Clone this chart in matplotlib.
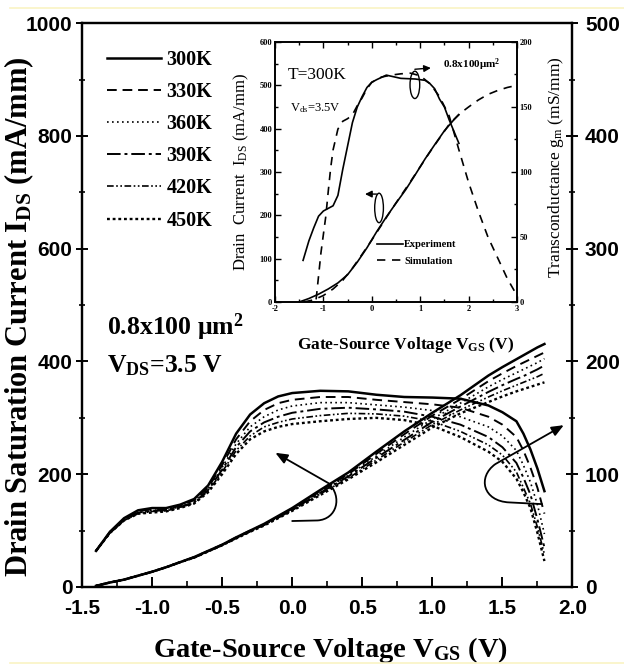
import matplotlib
matplotlib.use("Agg")
import matplotlib.pyplot as plt
from matplotlib.lines import Line2D
from matplotlib.patches import FancyArrowPatch, Ellipse
from matplotlib.path import Path
from matplotlib.ticker import MultipleLocator

plt.rcParams['axes.unicode_minus'] = False
plt.rcParams['mathtext.default'] = 'regular'

SERIF = 'Liberation Serif'
SANS = 'Liberation Sans'

# ---- main plot data ----
temps = ['300K', '330K', '360K', '390K', '420K', '450K']
vgs = [-1.4, -1.3, -1.2, -1.1, -1.0, -0.9, -0.8, -0.7, -0.6, -0.5, -0.4, -0.3, -0.2, -0.1,
       0.0, 0.2, 0.4, 0.6, 0.8, 1.0, 1.2, 1.4, 1.5, 1.6, 1.65, 1.7, 1.75, 1.8]

# drain saturation current (mA/mm), left axis
ids_300k = [2, 8, 13, 20, 27, 35, 44, 53, 64, 75, 88, 100, 112, 126,
            140, 172, 203, 240, 276, 309, 340, 375, 390, 404, 411, 418, 425, 431]
ids_330k = [2, 8, 13, 20, 27, 35, 44, 53, 64, 75, 88, 100, 111, 125,
            139, 170, 200, 236, 271, 304, 333, 365, 379, 392, 398, 404, 410, 416]
ids_360k = [2, 8, 13, 20, 27, 35, 44, 53, 64, 75, 87, 99, 111, 124,
            138, 168, 198, 232, 266, 298, 326, 355, 368, 380, 386, 392, 398, 405]
ids_390k = [2, 8, 13, 20, 27, 35, 44, 52, 63, 74, 87, 99, 110, 123,
            137, 167, 196, 229, 261, 293, 320, 346, 358, 369, 374, 380, 386, 393]
ids_420k = [2, 8, 13, 20, 27, 35, 44, 52, 63, 74, 86, 98, 110, 123,
            136, 165, 193, 225, 257, 288, 314, 337, 348, 358, 363, 368, 373, 379]
ids_450k = [2, 8, 13, 20, 27, 35, 44, 52, 63, 74, 86, 98, 109, 122,
            135, 163, 191, 221, 252, 283, 308, 328, 338, 347, 351, 355, 359, 363]

# transconductance (mS/mm), right axis
gm_300k = [32, 49, 61, 68, 70, 70, 73, 78, 90, 111, 136, 153, 163, 169,
           172, 174, 173.5, 170.5, 168.5, 168, 167, 161, 155, 147, 136, 122, 105, 85]
gm_330k = [32, 49, 60, 67, 69, 69, 72, 77, 88, 108, 131, 147, 157, 163,
           166, 168.5, 168.5, 166, 164, 162, 159, 151, 144, 133, 121, 106, 88, 65]
gm_360k = [32, 48, 60, 66, 68, 68.5, 71, 76, 87, 106, 127, 142, 151, 157,
           160.5, 163.5, 163.5, 161.5, 159.5, 156.5, 151, 142, 134, 121, 108, 93, 73, 47]
gm_390k = [32, 48, 59, 66, 67.5, 68, 71, 75, 86, 104, 124, 138, 146, 151,
           154.5, 158, 159, 157.5, 155.5, 151, 144, 133, 124, 110, 97, 82, 60, 35]
gm_420k = [32, 48, 59, 65, 67, 67.5, 70.5, 74.5, 85, 102, 121, 134, 142, 146,
           149, 152, 154, 153.5, 151.5, 147, 138, 126, 117, 102, 88, 74, 53, 29]
gm_450k = [32, 48, 59, 65, 66, 67, 70, 74, 84, 100, 118, 131, 138, 142,
           144.5, 147, 149, 150, 148, 143, 133, 120, 111, 96, 84, 70, 48, 23]

ids_all = [ids_300k, ids_330k, ids_360k, ids_390k, ids_420k, ids_450k]
gm_all = [gm_300k, gm_330k, gm_360k, gm_390k, gm_420k, gm_450k]

# ---- inset data (T=300K) ----
vgs_ids_exp = [-1.5, -1.3, -1.1, -0.9, -0.7, -0.5, -0.3, -0.1, 0.1, 0.3, 0.5, 0.7,
               0.9, 1.1, 1.3, 1.5, 1.7, 1.8]
ids_exp = [0, 8, 18, 30, 44, 63, 92, 125, 162, 196, 228, 259, 294, 330, 363, 395, 421, 432]
vgs_ids_sim = [-1.4, -1.2, -1.0, -0.8, -0.6, -0.4, -0.2, 0.0, 0.4, 0.8, 1.2, 1.6,
               1.8, 2.0, 2.2, 2.4, 2.6, 2.8, 3.0]
ids_sim = [0, 5, 15, 30, 50, 78, 110, 143, 212, 278, 346, 410, 433, 450, 466, 479, 488, 495, 500]

vgs_gm_exp = [-1.42, -1.3, -1.2, -1.1, -1.0, -0.9, -0.8, -0.7, -0.6, -0.5, -0.4, -0.3,
              -0.2, -0.1, 0.0, 0.1, 0.3, 0.6, 0.9, 1.1, 1.2, 1.3, 1.4, 1.5, 1.6, 1.7, 1.8]
gm_exp = [32, 47, 57, 66, 70, 72, 74, 82, 102, 120, 138, 150, 158, 165, 169, 171,
          174.5, 172, 171.5, 170.5, 168, 164, 156, 150, 140, 131, 122]
vgs_gm_sim = [-1.15, -1.1, -1.05, -1.0, -0.95, -0.9, -0.85, -0.8, -0.7, -0.6, -0.5, -0.4,
              -0.3, -0.2, -0.1, 0.0, 0.2, 0.4, 0.6, 0.8, 1.0, 1.2, 1.4, 1.6, 1.8, 2.0,
              2.2, 2.4, 2.6, 2.8, 3.0]
gm_sim = [2, 20, 38, 52, 66, 85, 103, 117, 133, 139, 141, 144, 151, 157, 164, 169, 173,
          174.5, 175.5, 176, 174, 168, 158, 143, 117, 92, 70, 50, 34, 18, 5]

styles = ['-', (0, (5, 3)), (0, (1, 2)), (0, (7, 2, 1.5, 2)),
          (0, (4, 1.5, 1, 1.5, 1, 1.5)), (0, (1.2, 1.2))]
widths = [1.8, 1.4, 1.2, 1.4, 1.2, 1.7]

fig = plt.figure(figsize=(6.24, 6.64), dpi=100)
fig.patch.set_facecolor('white')

ax = fig.add_axes([0.1314, 0.116, 0.786, 0.849])
ax2 = ax.twinx()

for ids, gm, ls, lw in zip(ids_all, gm_all, styles, widths):
    ax.plot(vgs, ids, color='k', ls=ls, lw=lw)
    ax2.plot(vgs, gm, color='k', ls=ls, lw=lw)

ax.set_xlim(-1.5, 2.0)
ax.set_ylim(0, 1000)
ax2.set_ylim(0, 500)
ax.xaxis.set_major_locator(MultipleLocator(0.5))
ax.xaxis.set_minor_locator(MultipleLocator(0.25))
ax.yaxis.set_major_locator(MultipleLocator(200))
ax.yaxis.set_minor_locator(MultipleLocator(100))
ax2.yaxis.set_major_locator(MultipleLocator(100))
ax2.yaxis.set_minor_locator(MultipleLocator(50))

for a in (ax, ax2):
    for s in a.spines.values():
        s.set_linewidth(1.6)
ax.tick_params(axis='x', which='major', direction='in', length=7, width=1.4, pad=9)
ax.tick_params(axis='x', which='minor', direction='in', length=4, width=1.2)
ax.tick_params(axis='y', which='major', direction='inout', length=8, width=1.4, pad=3)
ax.tick_params(axis='y', which='minor', direction='inout', length=5, width=1.2)
ax2.tick_params(axis='y', which='major', direction='inout', length=8, width=1.4, pad=5)
ax2.tick_params(axis='y', which='minor', direction='inout', length=5, width=1.2)
for lbl in ax.get_xticklabels() + ax.get_yticklabels() + ax2.get_yticklabels():
    lbl.set_fontfamily(SANS)
    lbl.set_fontweight('bold')
    lbl.set_fontsize(15)

ax.set_xlabel('Gate-Source Voltage V$_{GS}$ (V)', fontfamily=SERIF,
              fontweight='bold', fontsize=20.5, va='baseline')
ax.set_ylabel('Drain Saturation Current I$_{DS}$ (mA/mm)', fontfamily=SERIF,
              fontweight='bold', fontsize=22)
ax.xaxis.set_label_coords(0.506, -0.124)
ax.yaxis.set_label_coords(-0.094, 0.479)

ax.text(0.051, 0.447, '0.8x100 \u03bcm$^{2}$', transform=ax.transAxes,
        fontfamily=SERIF, fontweight='bold', fontsize=18.5, va='baseline')
ax.text(0.051, 0.381, 'V$_{DS}$=3.5 V', transform=ax.transAxes,
        fontfamily=SERIF, fontweight='bold', fontsize=18.5, va='baseline')

handles = [Line2D([], [], color='k', ls=ls, lw=lw) for ls, lw in zip(styles, widths)]
ax2.legend(handles, temps, loc='upper left', bbox_to_anchor=(0.1715, 0.9245),
           bbox_transform=fig.transFigure, frameon=False, borderpad=0,
           borderaxespad=0, handlelength=2.7, handletextpad=0.25, labelspacing=0.6,
           prop={'family': SERIF, 'weight': 'bold', 'size': 14.5})

# loop arrows pointing at the axis each family belongs to
left_loop = Path([(0.0, 117), (0.18, 118), (0.32, 120), (0.36, 160), (0.26, 184), (-0.12, 238)],
                 [Path.MOVETO, Path.LINETO, Path.CURVE4, Path.CURVE4, Path.CURVE4, Path.LINETO])
right_loop = Path([(1.783, 147), (1.55, 150), (1.36, 152), (1.32, 195), (1.45, 218), (1.938, 287)],
                  [Path.MOVETO, Path.LINETO, Path.CURVE4, Path.CURVE4, Path.CURVE4, Path.LINETO])
for p in (left_loop, right_loop):
    ax.add_patch(FancyArrowPatch(path=p, arrowstyle='-|>,head_length=0.6,head_width=0.25',
                                 mutation_scale=12, lw=1.3, color='k', transform=ax.transData))

# ---- inset ----
axin = fig.add_axes([0.4407, 0.5452, 0.3878, 0.3916])
axin.set_facecolor('white')
axin2 = axin.twinx()
l_exp, = axin.plot(vgs_ids_exp, ids_exp, color='k', lw=1.2)
l_sim, = axin.plot(vgs_ids_sim, ids_sim, color='k', lw=1.2, ls=(0, (5, 4)))
axin2.plot(vgs_gm_exp, gm_exp, color='k', lw=1.2)
axin2.plot(vgs_gm_sim, gm_sim, color='k', lw=1.2, ls=(0, (5, 4)))

axin.set_xlim(-2, 3)
axin.set_ylim(0, 600)
axin2.set_ylim(0, 200)
axin.xaxis.set_major_locator(MultipleLocator(1))
axin.xaxis.set_minor_locator(MultipleLocator(0.5))
axin.yaxis.set_major_locator(MultipleLocator(100))
axin.yaxis.set_minor_locator(MultipleLocator(50))
axin2.yaxis.set_major_locator(MultipleLocator(50))
axin2.yaxis.set_minor_locator(MultipleLocator(25))
for a in (axin, axin2):
    for s in a.spines.values():
        s.set_linewidth(1.2)
axin.tick_params(which='both', direction='in', top=True, width=1.0, pad=2)
axin.tick_params(which='major', length=4)
axin.tick_params(which='minor', length=2.5)
axin2.tick_params(which='both', direction='in', width=1.0, pad=2)
axin2.tick_params(which='major', length=4)
axin2.tick_params(which='minor', length=2.5)
for lbl in axin.get_xticklabels() + axin.get_yticklabels() + axin2.get_yticklabels():
    lbl.set_fontfamily(SERIF)
    lbl.set_fontweight('bold')
    lbl.set_fontsize(6)

axin.set_xlabel('Gate-Source Voltage V$_{GS}$ (V)', fontfamily=SERIF,
                fontweight='bold', fontsize=12.5, va='baseline')
axin.set_ylabel('Drain  Current  I$_{DS}$ (mA/mm)', fontfamily=SERIF,
                fontsize=12)
axin2.set_ylabel('Transconductance g$_{m}$ (mS/mm)', fontfamily=SERIF,
                 fontsize=12.5)
axin.xaxis.set_label_coords(0.54, -0.18)
axin.yaxis.set_label_coords(-0.1, 0.5)
axin2.yaxis.set_label_coords(1.12, 0.52)

axin.text(0.054, 0.873, 'T=300K', transform=axin.transAxes, fontfamily=SERIF,
          fontsize=12.5, va='center')
axin.text(0.062, 0.746, 'V$_{ds}$=3.5V', transform=axin.transAxes, fontfamily=SERIF,
          fontsize=9, va='center')
axin.text(0.694, 0.912, '0.8x100\u03bcm$^{2}$', transform=axin.transAxes,
          fontfamily=SERIF, fontweight='bold', fontsize=8, va='center')

axin.add_patch(Ellipse((0.15, 217), 0.18, 68, fill=False, lw=1.0, color='k'))
axin.annotate('', xy=(-0.14, 249), xytext=(0.1, 249),
              arrowprops=dict(arrowstyle='-|>,head_length=0.4,head_width=0.2',
                              lw=1.0, color='k', shrinkA=0, shrinkB=0))
axin2.add_patch(Ellipse((0.89, 167), 0.2, 21, fill=False, lw=1.0, color='k'))
axin2.annotate('', xy=(1.22, 180), xytext=(0.89, 179),
               arrowprops=dict(arrowstyle='-|>,head_length=0.4,head_width=0.2',
                               lw=1.0, color='k', shrinkA=0, shrinkB=0))

axin.legend([l_exp, l_sim], ['Experiment', 'Simulation'], loc='upper left',
            bbox_to_anchor=(377 / 624, 1 - 240 / 664), bbox_transform=fig.transFigure,
            frameon=False, borderpad=0, borderaxespad=0, handlelength=2.5,
            handletextpad=0.1, labelspacing=0.7,
            prop={'family': SERIF, 'weight': 'bold', 'size': 7.5})

# faint scan border lines
fig.add_artist(Line2D([0.016, 1.0], [1 - 8 / 664, 1 - 8 / 664], color='#faf3c4', lw=1.2))
fig.add_artist(Line2D([0.016, 1.0], [1 / 664, 1 / 664], color='#faf3c4', lw=1.2))

fig.savefig('out.png', dpi=100)
